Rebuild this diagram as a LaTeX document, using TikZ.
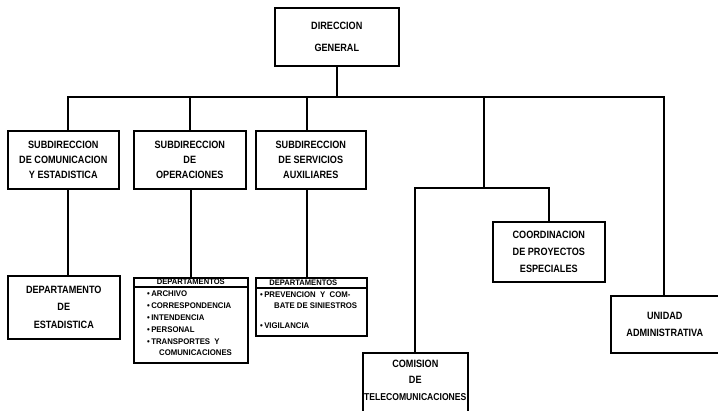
\documentclass[tikz,border=0pt]{standalone}
\usepackage{fontspec}
\setmainfont{Liberation Sans}[FakeStretch=0.86]
\newfontfamily\listfont{Liberation Sans}[FakeStretch=0.95]
\begin{document}
\begin{tikzpicture}[x=1pt,y=-1pt,
  box/.style={draw, line width=1.6pt, anchor=north west, inner sep=0pt, align=center},
  bigtext/.style={font=\bfseries\fontsize{10.6}{#1}\selectfont},
  bigtext/.default=15,
  link/.style={line width=2pt, line join=miter},
  hdr/.style={font=\listfont\bfseries\fontsize{8}{8}\selectfont, inner sep=0pt},
  lst/.style={font=\listfont\bfseries\fontsize{8.2}{11.8}\selectfont, inner sep=0pt, align=left, anchor=north west},
]
\useasboundingbox (0,0) rectangle (718,410);

% top of the chart
\node[box, bigtext=22, minimum width=124pt, minimum height=58pt] (dg) at (274,7) {DIRECCION\\GENERAL};

% subdirections
\node[box, bigtext, minimum width=111pt, minimum height=58pt] (s1) at (7,130) {SUBDIRECCION\\DE COMUNICACION\\Y ESTADISTICA};
\node[box, bigtext, minimum width=112pt, minimum height=58pt] (s2) at (133,130) {SUBDIRECCION\\DE\\OPERACIONES};
\node[box, bigtext, minimum width=110pt, minimum height=58pt] (s3) at (255,130) {SUBDIRECCION\\DE SERVICIOS\\AUXILIARES};

% departments
\node[box, bigtext=17.5, minimum width=112pt, minimum height=63pt] (d1) at (7,275) {DEPARTAMENTO\\DE\\ESTADISTICA};

\node[box, minimum width=114pt, minimum height=85pt] (d2) at (133,277) {};
\path (d2.north west) ++(0,10) coordinate (d2l);
\draw[line width=1.2pt] (d2l) -- (d2l -| d2.east);
\node[hdr] (d2h) at ([yshift=-5.2pt]d2.north) {DEPARTAMENTOS};
\node[lst] (d2t) at ([xshift=14pt,yshift=-14pt]d2.north west)
  {\textbullet\,ARCHIVO\\\textbullet\,CORRESPONDENCIA\\\textbullet\,INTENDENCIA\\\textbullet\,PERSONAL\\\textbullet\,TRANSPORTES\ \ Y\\\hspace*{12pt}COMUNICACIONES};

\node[box, minimum width=111pt, minimum height=58pt] (d3) at (255,277) {};
\path (d3.north west) ++(0,11) coordinate (d3l);
\draw[line width=1.2pt] (d3l) -- (d3l -| d3.east);
\node[hdr] (d3h) at ([xshift=-8pt,yshift=-5.5pt]d3.north) {DEPARTAMENTOS};
\node[lst, font=\listfont\bfseries\fontsize{8.2}{10.5}\selectfont] (d3t) at ([xshift=5pt,yshift=-15pt]d3.north west)
  {\textbullet\,PREVENCION\ \ Y\ \ COM-\\\hspace*{14pt}BATE DE SINIESTROS\\[10pt]\textbullet\,VIGILANCIA};

% right-hand units
\node[box, bigtext=17, minimum width=112pt, minimum height=60pt] (co) at (492,221) {COORDINACION\\DE PROYECTOS\\ESPECIALES};
\node[box, bigtext=17, minimum width=108pt, minimum height=57pt] (ua) at (610,295) {UNIDAD\\ADMINISTRATIVA};
\node[box, minimum width=105pt, minimum height=64pt] (cm) at (362,352) {};
\node[bigtext=16.5, align=center, inner sep=0pt] (cmt) at ([yshift=-28pt]cm.north) {COMISION\\DE\\\fontsize{10}{16.5}\selectfont TELECOMUNICACIONES};

% connectors
\coordinate (bl) at (68,97);
\coordinate (br) at (664,97);
\coordinate (b2) at (190,97);
\coordinate (b3) at (307,97);
\coordinate (bc) at (484,97);
\coordinate (bj) at (484,188);

\draw[link] (dg.south) -- (dg.south |- bl);
\draw[link] (bl |- s1.north) -- (bl) -- (br) -- (br |- ua.north);
\draw[link] (b2) -- (b2 |- s2.north);
\draw[link] (b3) -- (b3 |- s3.north);
\draw[link] (bc) -- (bj);
\draw[link] (cm.north) -- (cm.north |- bj) -- (bj -| co.north) -- (co.north);

\draw[link] (s1.south -| bl) -- (d1.north -| bl);
\draw[link] ([xshift=1pt]s2.south) -- ([xshift=1pt]s2.south |- d2.north);
\draw[link] (s3.south -| b3) -- (d3.north -| b3);
\end{tikzpicture}
\end{document}
